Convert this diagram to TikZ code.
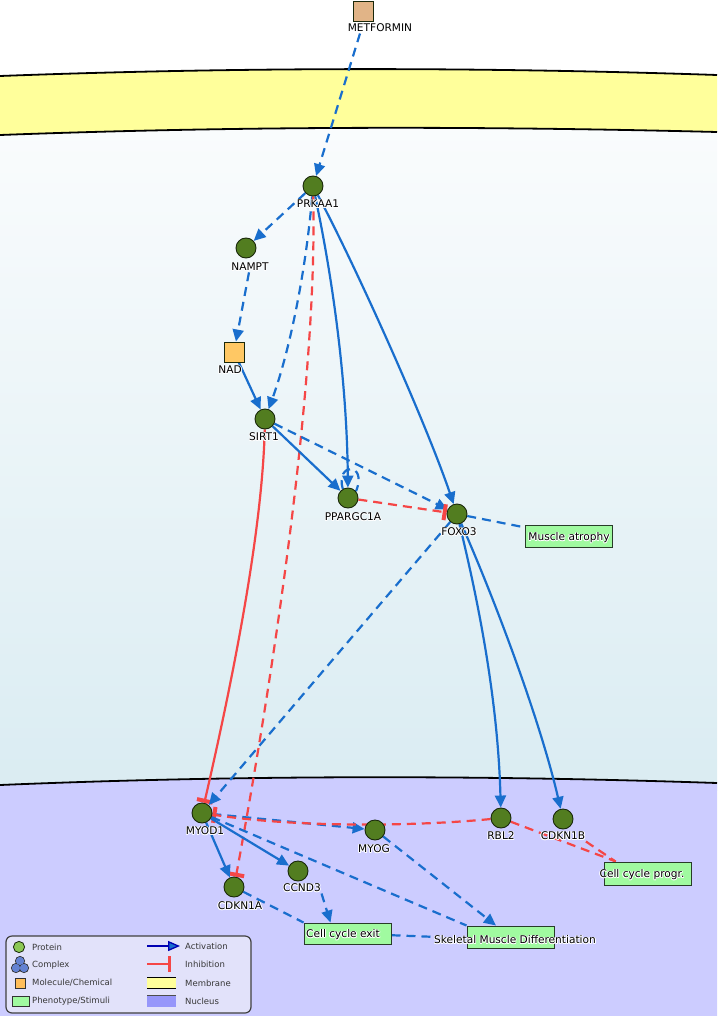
\documentclass[tikz,border=0pt]{standalone}
\usepackage{fontspec}
\setmainfont{DejaVu Sans}
\usetikzlibrary{arrows.meta}
\definecolor{eblue}{RGB}{25,110,205}
\definecolor{ered}{RGB}{245,70,70}
\definecolor{protfill}{RGB}{82,125,32}
\definecolor{protdraw}{RGB}{25,40,10}
\definecolor{metfill}{RGB}{225,180,135}
\definecolor{nadfill}{RGB}{255,200,100}
\definecolor{phenofill}{RGB}{160,250,160}
\definecolor{phenodraw}{RGB}{40,60,40}
\definecolor{memb}{RGB}{255,255,155}
\definecolor{nuc}{RGB}{204,204,255}
\definecolor{cytotop}{RGB}{250,252,253}
\definecolor{cytobot}{RGB}{218,236,242}
\definecolor{legfill}{RGB}{226,226,250}
\definecolor{legtext}{RGB}{55,55,55}
\definecolor{lgprot}{RGB}{140,200,85}
\definecolor{lgcplx}{RGB}{100,130,210}
\definecolor{lgmol}{RGB}{255,190,90}
\definecolor{lgnuc}{RGB}{150,150,250}
\pgfdeclarelayer{bg}
\pgfdeclarelayer{edges}
\pgfsetlayers{bg,edges,main}
\newcommand{\hcopy}[3]{\makebox[0pt][l]{\hspace*{#1}\raisebox{#2}{\color{white}#3}}}
\newcommand{\halotext}[1]{\leavevmode\hcopy{0.8pt}{0pt}{#1}\hcopy{-0.8pt}{0pt}{#1}\hcopy{0pt}{0.8pt}{#1}\hcopy{0pt}{-0.8pt}{#1}\hcopy{0.6pt}{0.6pt}{#1}\hcopy{-0.6pt}{0.6pt}{#1}\hcopy{0.6pt}{-0.6pt}{#1}\hcopy{-0.6pt}{-0.6pt}{#1}#1}
\begin{document}
\begin{tikzpicture}[x=1pt,y=-1pt,
  prot/.style={circle,draw=protdraw,fill=protfill,line width=0.9pt,minimum size=20pt,inner sep=0pt},
  mol/.style={rectangle,draw=protdraw,line width=0.9pt,minimum size=20pt,inner sep=0pt},
  pheno/.style={rectangle,draw=phenodraw,fill=phenofill,line width=1pt,inner sep=0pt,minimum width=87pt},
  lbl/.style={font=\fontsize{10.6}{12}\selectfont,inner sep=0.5pt,text=black},
  leg/.style={font=\fontsize{8.5}{10}\selectfont,inner sep=0pt,text=legtext,anchor=west},
  edge/.style={line width=2.2pt},
  dsh/.style={dash pattern=on 9pt off 6pt},
  act/.style={edge,draw=eblue,-{Triangle[length=12pt,width=11pt]}},
  inh/.style={edge,draw=ered,-{Bar[width=16pt,line width=4pt]}},
  bl/.style={edge,draw=eblue},
  rd/.style={edge,draw=ered}]
\useasboundingbox (0,0) rectangle (717,1016);
% ---------- background ----------
\begin{pgfonlayer}{bg}
\fill[white] (0,0) rectangle (717,1016);
\shade[top color=cytotop,bottom color=cytobot] (0,120) rectangle (717,790);
\fill[memb] (0,76) .. controls (240,67) and (480,67) .. (717,75) -- (717,132) .. controls (480,126) and (240,126) .. (0,135) -- cycle;
\draw[line width=1.8pt] (0,76) .. controls (240,67) and (480,67) .. (717,75);
\draw[line width=1.8pt] (0,135) .. controls (240,126) and (480,126) .. (717,132);
\fill[nuc] (0,785) .. controls (240,775) and (480,775) .. (717,783) -- (717,1016) -- (0,1016) -- cycle;
\draw[line width=1.8pt] (0,785) .. controls (240,775) and (480,775) .. (717,783);
\end{pgfonlayer}
% ---------- nodes ----------
\node[mol,fill=metfill] (MET) at (363,11) {};
\node[lbl] (METl) at (380,28) {\halotext{METFORMIN}};
\node[prot] (PRKAA1) at (313,186) {};
\node[lbl] (PRKAA1l) at (318,204) {\halotext{PRKAA1}};
\node[prot] (NAMPT) at (246,248) {};
\node[lbl] (NAMPTl) at (250,267) {\halotext{NAMPT}};
\node[mol,fill=nadfill] (NAD) at (234,352) {};
\node[lbl] (NADl) at (230,370) {\halotext{NAD}};
\node[prot] (SIRT1) at (265,419) {};
\node[lbl] (SIRT1l) at (264,437) {\halotext{SIRT1}};
\node[prot] (PPARG) at (348,498) {};
\node[lbl] (PPARGl) at (353,517) {\halotext{PPARGC1A}};
\node[prot] (FOXO3) at (457,514) {};
\node[lbl] (FOXO3l) at (459,532) {\halotext{FOXO3}};
\node[pheno,minimum height=22pt] (MA) at (568.5,536) {};
\node[lbl] (MAl) at (569,538) {\halotext{Muscle atrophy}};
\node[prot] (MYOD1) at (202,813) {};
\node[lbl] (MYOD1l) at (205,831) {\halotext{MYOD1}};
\node[prot] (MYOG) at (375,830) {};
\node[lbl] (MYOGl) at (374,849) {\halotext{MYOG}};
\node[prot] (RBL2) at (501,818) {};
\node[lbl] (RBL2l) at (501,836) {\halotext{RBL2}};
\node[prot] (CDKN1B) at (563,819) {};
\node[lbl] (CDKN1Bl) at (563,836) {\halotext{CDKN1B}};
\node[prot] (CCND3) at (298,871) {};
\node[lbl] (CCND3l) at (302,888) {\halotext{CCND3}};
\node[prot] (CDKN1A) at (234,887) {};
\node[lbl] (CDKN1Al) at (240,906) {\halotext{CDKN1A}};
\node[pheno,minimum height=23pt] (CCP) at (647.5,873.5) {};
\node[lbl] (CCPl) at (642,875) {\halotext{Cell cycle progr.}};
\node[pheno,minimum height=21pt] (CCE) at (347.5,933.5) {};
\node[lbl] (CCEl) at (343,935) {\halotext{Cell cycle exit}};
\node[pheno,minimum height=22pt] (SMD) at (510.5,937) {};
\node[lbl] (SMDl) at (515,940) {\halotext{Skeletal Muscle Differentiation}};
% ---------- edges ----------
\begin{pgfonlayer}{edges}
\draw[act,dsh] ([xshift=-20pt]METl.south) -- (PRKAA1);
\draw[act,dsh] (PRKAA1) -- (NAMPT);
\draw[act,dsh] (NAMPTl) -- (NAD);
\draw[act] (NAD) -- (SIRT1);
\draw[act,dsh] (PRKAA1) .. controls (306,270) and (290,350) .. (SIRT1);
\draw[act] (PRKAA1) .. controls (335,290) and (347,390) .. (PPARG);
\draw[act] (PRKAA1) .. controls (355,265) and (425,420) .. (FOXO3);
\draw[inh,dsh] (PRKAA1) .. controls (318,400) and (265,720) .. (CDKN1A);
\draw[inh] (SIRT1) .. controls (262,540) and (228,700) .. (MYOD1);
\draw[act] (SIRT1) -- (PPARG);
\draw[act,dsh] (SIRT1) -- (FOXO3);
\draw[bl,dsh] (PPARG.120) .. controls (335,462) and (368,462) .. (PPARG.40);
\draw[inh,dsh] (PPARG) -- (FOXO3);
\draw[bl,dsh] (FOXO3) -- (MA);
\draw[act,dsh] (FOXO3) -- (MYOD1);
\draw[act] (FOXO3) .. controls (478,600) and (498,700) .. (RBL2);
\draw[act] (FOXO3) .. controls (495,600) and (540,720) .. (CDKN1B);
\draw[act,dsh] (MYOD1) -- (MYOG);
\draw[inh,dsh] (RBL2) .. controls (420,826) and (300,828) .. (MYOD1);
\draw[act] (MYOD1) -- (CDKN1A);
\draw[act] (MYOD1) -- (CCND3);
\draw[bl,dsh] (MYOD1) -- (SMD.north west);
\draw[act,dsh] (MYOG) -- (SMD);
\draw[act,dsh] (CCND3l.south east) -- ([xshift=-17pt]CCE.north);
\draw[bl,dsh] (CDKN1A) -- (CCE.north west);
\draw[bl,dsh] (CCE) -- (SMDl);
\draw[rd,dsh] (RBL2) -- (CCP);
\draw[rd,dsh] (CDKN1Bl.south east) -- ([xshift=12pt]CCP.north west);
\end{pgfonlayer}
% ---------- legend ----------
\draw[fill=legfill,draw=black!75,line width=1.2pt,rounded corners=6pt] (6,936) rectangle (251,1013);
\draw[fill=lgprot,draw=protdraw,line width=0.8pt] (19,947) circle (5.6);
\foreach \cx/\cy in {20/961,16/968,24/968} \draw[fill=lgcplx,draw=black!80,line width=0.8pt] (\cx,\cy) circle (4.6);
\foreach \cx/\cy in {20/961,16/968,24/968} \fill[lgcplx] (\cx,\cy) circle (4.0);
\draw[fill=lgmol,draw=black!80,line width=0.8pt] (15,978) rectangle (25,988);
\draw[fill=phenofill,draw=black!80,line width=0.8pt] (12,996) rectangle (29,1006);
\node[leg] (lg1) at (32,947) {Protein};
\node[leg] (lg2) at (32,965) {Complex};
\node[leg] (lg3) at (32,983) {Molecule/Chemical};
\node[leg] (lg4) at (32,1001) {Phenotype/Stimuli};
\coordinate (la1) at (147,946);
\coordinate (la2) at (180,946);
\draw[line width=1.3pt,draw=blue!70!black,-{Triangle[length=12pt,width=10pt,fill=eblue]}] (la1) -- (la2);
\coordinate (li1) at (147,964);
\coordinate (li2) at (171,964);
\draw[line width=1.3pt,draw=ered,-{Bar[width=16pt,line width=3pt]}] (li1) -- (li2);
\fill[memb] (147,977) rectangle (176,988);
\draw[line width=0.8pt] (147,977) -- (176,977) (147,988) -- (176,988);
\fill[lgnuc] (147,995) rectangle (176,1007);
\draw[line width=0.8pt,draw=black!70] (147,995) -- (176,995);
\node[leg] (lg5) at (185,946) {Activation};
\node[leg] (lg6) at (185,964) {Inhibition};
\node[leg] (lg7) at (185,983) {Membrane};
\node[leg] (lg8) at (185,1001) {Nucleus};
\end{tikzpicture}
\end{document}
